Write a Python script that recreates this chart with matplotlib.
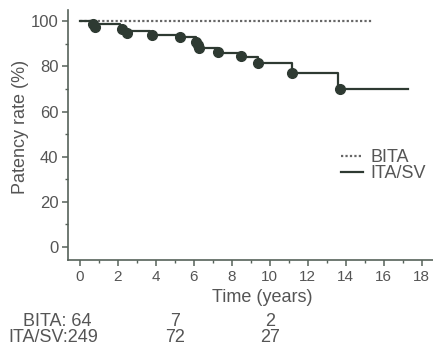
import matplotlib.pyplot as plt
import numpy as np

plt.rcParams['font.family'] = ['Liberation Sans', 'DejaVu Sans']

# Kaplan-Meier style patency curves
bita_t = [0, 15.4]
bita_s = [100, 100]

itasv_t = [0, 0.7, 2.1, 3.7, 5.2, 6.1, 6.3, 7.3, 8.5, 9.4, 11.2, 13.6, 17.3]
itasv_s = [100, 98.7, 95.5, 94, 93, 90, 88, 86, 84, 81.5, 77, 70, 70]

# event markers
mk_t = [0.7, 0.8, 2.2, 2.5, 3.8, 5.3, 6.1, 6.2, 6.3, 7.3, 8.5, 9.4, 11.2, 13.7]
mk_s = [99, 97.5, 96.5, 95, 94, 93, 91, 89.5, 88, 86.5, 84.5, 81.5, 77, 70]

risk_times = [5, 10]
risk_bita = ['7', '2']
risk_itasv = ['72', '27']

dark = '#2e3a32'
axcol = '#56625a'
txtcol = '#555555'

W, H = 433, 345
fig = plt.figure(figsize=(4.33, 3.45), dpi=100)
ax = fig.add_axes([68 / W, 1 - 260 / H, 1 - 68 / W, 250 / H])

ax.plot(bita_t, bita_s, linestyle=(0, (1, 1)), color='#666666', lw=1.6, label='BITA')
ax.plot(itasv_t, itasv_s, drawstyle='steps-post', color=dark, lw=1.6, label='ITA/SV')
ax.plot(mk_t, mk_s, 'o', color=dark, ms=7, mec=dark)

ax.set_xlim(-0.62, 18.6)
ax.set_ylim(-5.8, 105)
ax.set_xticks(np.arange(0, 19, 2))
ax.set_xticks(np.arange(0, 19, 1), minor=True)
ax.set_yticks(np.arange(0, 101, 20))
ax.set_yticks(np.arange(0, 101, 10), minor=True)

for s in ['top', 'right']:
    ax.spines[s].set_visible(False)
for s in ['left', 'bottom']:
    ax.spines[s].set_color(axcol)
    ax.spines[s].set_linewidth(1.2)
ax.tick_params(which='both', colors=axcol, labelcolor=txtcol, direction='out')
ax.tick_params(axis='x', labelsize=11)
ax.tick_params(axis='y', labelsize=12)
ax.tick_params(which='major', length=4, width=1.1, pad=3)
ax.tick_params(which='minor', length=2.5, width=1)

ax.set_xlabel('Time (years)', fontsize=13, color=txtcol)
ax.xaxis.set_label_coords((262 - 68) / (W - 68), -(298 - 260) / 250, transform=ax.transAxes)
ax.xaxis.label.set_va('center')
ax.set_ylabel('Patency rate (%)', fontsize=13, color=txtcol)
ax.yaxis.set_label_coords(-(68 - 20) / (W - 68), (260 - 127) / 250, transform=ax.transAxes)
ax.yaxis.label.set_va('center')

leg = ax.legend(loc='upper left', bbox_to_anchor=((341 - 68) / (W - 68), (260 - 149) / 250),
                frameon=False, borderpad=0, borderaxespad=0, fontsize=13,
                handlelength=1.2, handletextpad=0.45, labelspacing=-0.05)
for t in leg.get_texts():
    t.set_color(txtcol)

# numbers at risk
fig.text(57 / W, 1 - 322 / H, 'BITA: 64', ha='center', va='center', fontsize=13, color=txtcol)
fig.text(53 / W, 1 - 338 / H, 'ITA/SV:249', ha='center', va='center', fontsize=13, color=txtcol)
for t, b, i in zip(risk_times, risk_bita, risk_itasv):
    xf = fig.transFigure.inverted().transform(ax.transData.transform((t, 0)))[0]
    fig.text(xf, 1 - 322 / H, b, ha='center', va='center', fontsize=13, color=txtcol)
    fig.text(xf, 1 - 338 / H, i, ha='center', va='center', fontsize=13, color=txtcol)

fig.savefig('out.png', dpi=100)
